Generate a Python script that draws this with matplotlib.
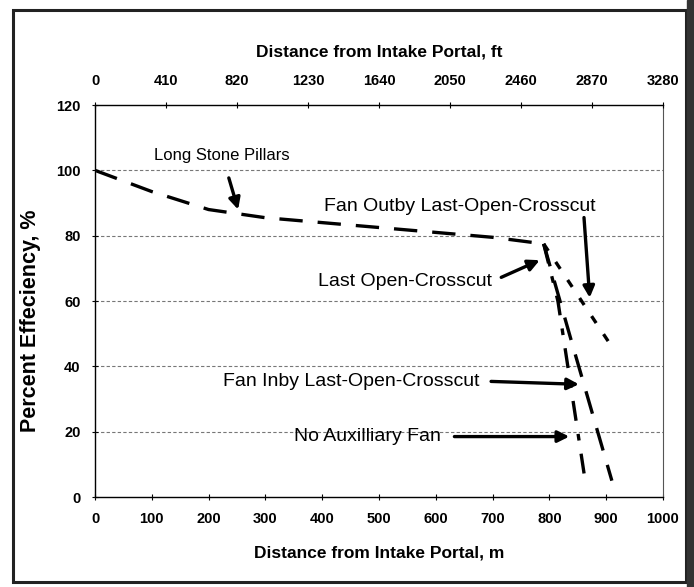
import numpy as np
import matplotlib.pyplot as plt
from matplotlib.patches import Rectangle

plt.rcParams['font.family'] = ['Liberation Sans', 'DejaVu Sans']

# main curve (long stone pillars), distance m / efficiency %
main_x = [0, 100, 200, 300, 400, 500, 600, 700, 790]
main_y = [100, 93.5, 88, 85.5, 84, 82.5, 81, 79.5, 77.5]

# branches after the last open crosscut
outby_x = [790, 910]
outby_y = [77.5, 46]
inby_x = [790, 840, 910]
inby_y = [77.5, 47, 5]
noaux_x = [790, 815, 863]
noaux_y = [77.5, 60, 5]

m_ticks = np.arange(0, 1001, 100)
ft_ticks = np.arange(0, 3281, 410)
y_ticks = np.arange(0, 121, 20)

fig = plt.figure(figsize=(6.94, 5.87), dpi=100)
fig.patches.append(Rectangle((0.019, 0.008), 0.97, 0.975, transform=fig.transFigure,
                             fill=False, lw=2.2, ec='#222222'))
fig.patches.append(Rectangle((0.99, 0.0), 0.01, 1.0, transform=fig.transFigure,
                             color='#333333'))

ax = fig.add_axes([0.1369, 0.1533, 0.8184, 0.6678])
ax.plot(main_x, main_y, color='black', lw=2.4, dashes=(7, 4.5))
ax.plot(outby_x, outby_y, color='black', lw=2.4, dashes=(2.5, 4))
ax.plot(inby_x, inby_y, color='black', lw=2.4, dashes=(7, 4.5))
ax.plot(noaux_x, noaux_y, color='black', lw=2.4, dashes=(6, 4, 2, 4))

ax.set_xlim(0, 1000)
ax.set_ylim(0, 120)
ax.set_xticks(m_ticks)
ax.set_yticks(y_ticks)
for v in y_ticks[1:-1]:
    ax.axhline(v, color='#777777', lw=0.8, ls=(0, (3, 2)), zorder=0)

ax.spines['right'].set_linestyle((0, (1, 1)))
ax.spines['right'].set_color('#555555')
for s in ['left', 'bottom', 'top']:
    ax.spines[s].set_color('#333333')
    ax.spines[s].set_linewidth(1.0)
ax.tick_params(direction='inout', length=5, width=0.8, labelsize=10.5)
ax.tick_params(axis='x', pad=8.5)
ax.tick_params(axis='y', pad=8)
for lab in ax.get_xticklabels() + ax.get_yticklabels():
    lab.set_fontweight('bold')
ax.set_xlabel('Distance from Intake Portal, m', fontsize=12.5, fontweight='bold', labelpad=14)
ax.set_ylabel('Percent Effeciency, %', fontsize=15.5, fontweight='bold')
ax.yaxis.set_label_coords(-0.095, 0.45)

top = ax.twiny()
top.set_xlim(0, 3280)
top.set_xticks(ft_ticks)
top.tick_params(direction='inout', length=5, width=0.8, labelsize=10.5, pad=9.5)
for lab in top.get_xticklabels():
    lab.set_fontweight('bold')
top.set_xlabel('Distance from Intake Portal, ft', fontsize=12.5, fontweight='bold', labelpad=13)
top.spines['right'].set_visible(False)

arrow = dict(arrowstyle='-|>', color='black', lw=2.4, mutation_scale=17)
ax.annotate('Long Stone Pillars', xy=(252, 88), xytext=(224, 104.5),
            ha='center', va='center', fontsize=12, arrowprops=dict(arrow, shrinkA=9, shrinkB=0))
ax.annotate('Fan Outby Last-Open-Crosscut', xy=(871, 61), xytext=(643, 89),
            ha='center', va='center', fontsize=14,
            arrowprops=dict(arrow, shrinkA=0, shrinkB=0, relpos=(0.955, 0.0)))
ax.annotate('Last Open-Crosscut', xy=(783, 72.5), xytext=(546, 66),
            ha='center', va='center', fontsize=14,
            arrowprops=dict(arrow, shrinkA=5, shrinkB=0, relpos=(1.0, 0.5)))
ax.annotate('Fan Inby Last-Open-Crosscut', xy=(852, 34.5), xytext=(452, 35.5),
            ha='center', va='center', fontsize=14,
            arrowprops=dict(arrow, shrinkA=6, shrinkB=0, relpos=(1.0, 0.5)))
ax.annotate('No Auxilliary Fan', xy=(835, 18.5), xytext=(479, 18.5),
            ha='center', va='center', fontsize=14,
            arrowprops=dict(arrow, shrinkA=8, shrinkB=0, relpos=(1.0, 0.5)))

fig.savefig('out.png', dpi=100)
